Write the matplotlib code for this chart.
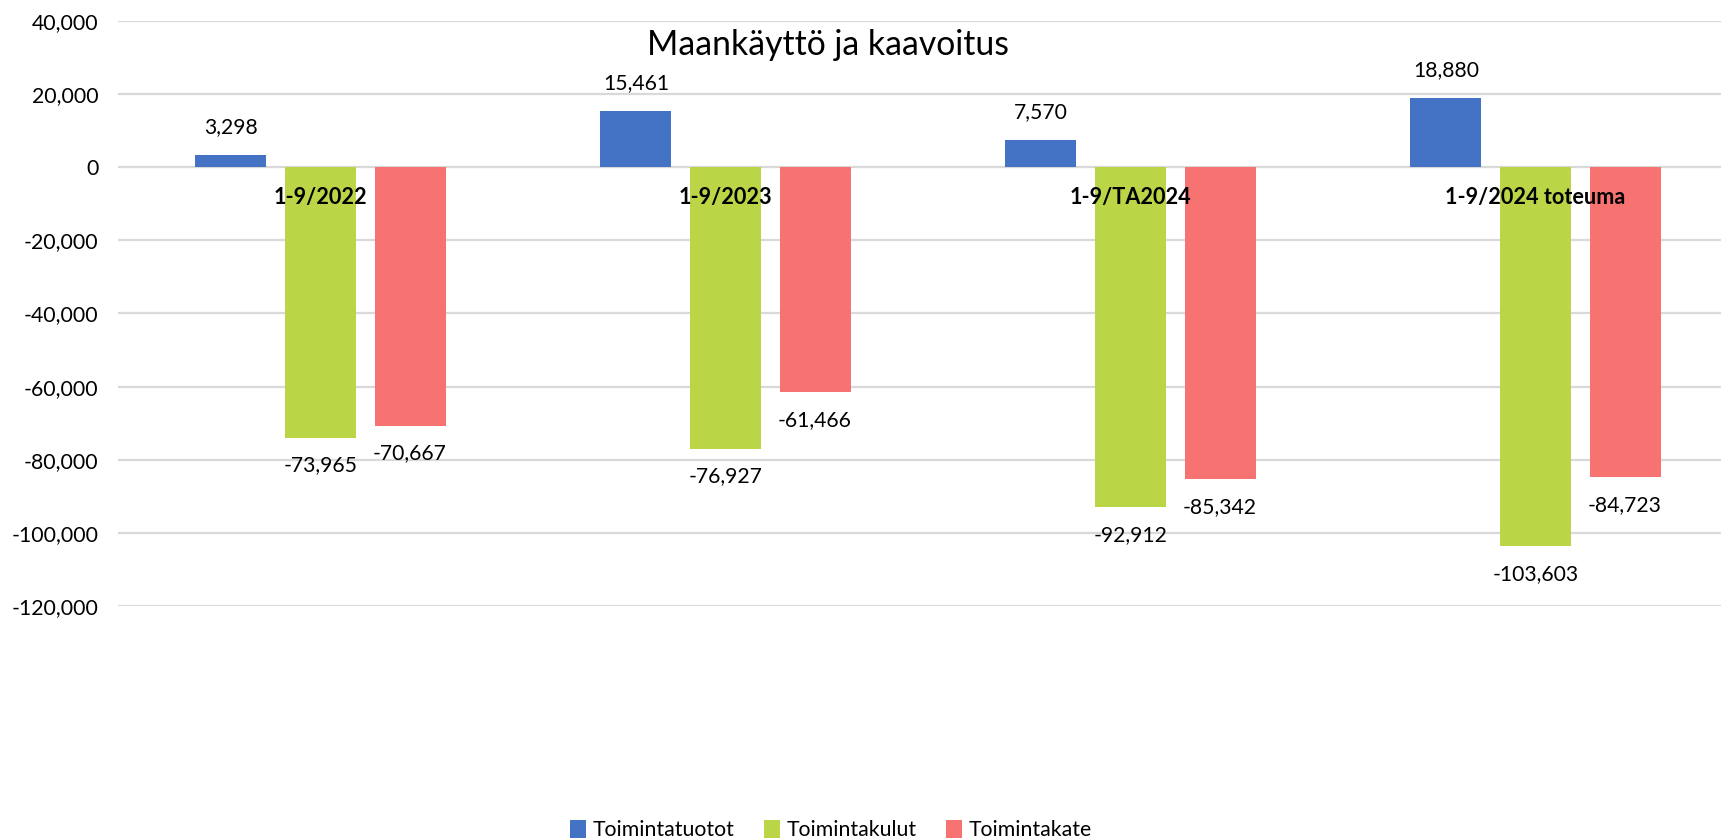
import matplotlib
matplotlib.use("Agg")
import matplotlib.pyplot as plt
import numpy as np
from matplotlib.ticker import FuncFormatter

categories = ['1-9/2022', '1-9/2023', '1-9/TA2024', '1-9/2024 toteuma']
series_names = ['Toimintatuotot', 'Toimintakulut', 'Toimintakate']
tuotot = [3298, 15461, 7570, 18880]
kulut = [-73965, -76927, -92912, -103603]
kate = [-70667, -61466, -85342, -84723]
colors = ['#4472C4', '#BAD647', '#F67372']
title = 'Maankäyttö ja kaavoitus'
yticks = [40000, 20000, 0, -20000, -40000, -60000, -80000, -100000, -120000]

plt.rcParams['font.family'] = ['Lato', 'DejaVu Sans']
plt.rcParams['axes.unicode_minus'] = False

W, H = 1721, 838
fig = plt.figure(figsize=(W / 100, H / 100), dpi=100)
ax = fig.add_axes([118 / W, 1 - 606 / H, (W - 118) / W, (606 - 21) / H])

x = np.arange(len(categories))
bw = 0.1753
step = 0.221
all_series = [tuotot, kulut, kate]
for k, (vals, col, name) in enumerate(zip(all_series, colors, series_names)):
    xs = x + (k - 1) * step
    ax.bar(xs, vals, width=bw, color=col, label=name, zorder=2)
    for xi, v in zip(xs, vals):
        off = 20 if v >= 0 else -20
        ax.annotate(f'{v:,}', (xi, v), xytext=(0, off), textcoords='offset points',
                    ha='center', va='center', fontsize=15.2, color='#000000', zorder=5)

for xi, c in zip(x, categories):
    ax.annotate(c, (xi, 0), xytext=(0, -21.5), textcoords='offset points',
                ha='center', va='center', fontsize=15.6, fontweight='bold',
                color='#000000', zorder=6)

ax.set_ylim(-120000, 40000)
ax.set_xlim(-0.5, (1721 - 118) / 405 - 0.5)
ax.set_yticks(yticks)
ax.yaxis.set_major_formatter(FuncFormatter(lambda v, p: f'{int(v):,}'))
ax.tick_params(axis='y', length=0, pad=14, labelsize=15.3, labelcolor='#000000')
ax.set_xticks([])
for s in ax.spines.values():
    s.set_visible(False)
ax.grid(axis='y', color='#D9D9D9', linewidth=1.6, zorder=0)
ax.set_axisbelow(True)

fig.text(828 / W, 1 - 55 / H, title, ha='center', va='baseline', fontsize=24.3, color='#000000')

fig.legend(loc='center', bbox_to_anchor=(831 / W, 1 - 830 / H), ncol=3, frameon=False,
           fontsize=15.3, handlelength=0.75, handleheight=0.9, handletextpad=0.3,
           columnspacing=1.4, borderpad=0)

fig.savefig('out.png', dpi=100)
